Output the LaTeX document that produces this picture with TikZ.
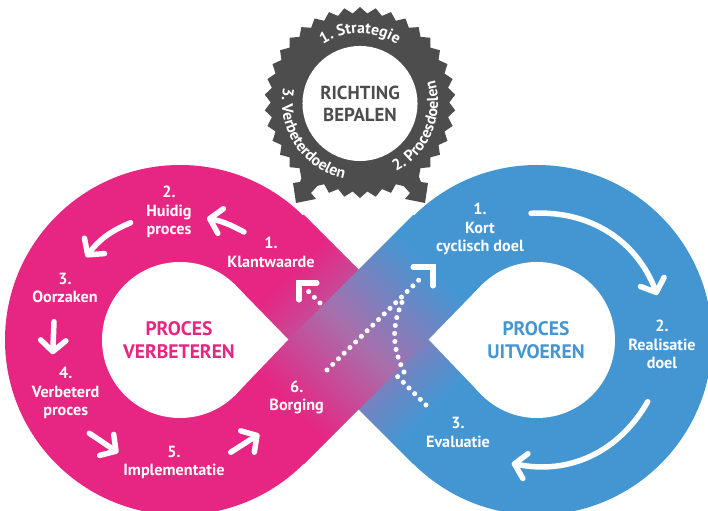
\documentclass[tikz,border=0pt]{standalone}
\usepackage{fontspec}
\setmainfont{PT Sans}
\usetikzlibrary{calc}
\usetikzlibrary{arrows.meta,shapes.geometric,decorations.text}

\definecolor{roze}{HTML}{E72582}
\definecolor{blauw}{HTML}{4496D3}
\definecolor{grijs}{HTML}{4D4D4D}
\definecolor{midden}{HTML}{A86FAC}
\pgfdeclarehorizontalshading{bandshade}{100bp}{color(0bp)=(roze); color(31bp)=(roze); color(50bp)=(midden); color(70bp)=(blauw); color(100bp)=(blauw)}
\newcommand{\ringfont}{\bfseries\fontsize{11.2}{13}\selectfont\color{white}}

\tikzset{
	label/.style={text=white,font=\bfseries\fontsize{11.5}{13}\selectfont,align=center,inner sep=0pt},
	kop/.style={font=\bfseries\fontsize{13.9}{16.4}\selectfont,align=center,inner sep=0pt},
	pijl/.style={white,line width=3.9pt,line cap=round,-{Straight Barb[length=8pt,width=18pt,round]}},
	stippel/.style={white,line width=3.6pt,line cap=round,dash pattern=on 0pt off 5.7pt},
	hoek/.style={white,line width=3.6pt,line cap=round,miter limit=4},
	ringtekst/.style={decorate,decoration={text along path,text align=center,text={#1}}}
}

\begin{document}
\begin{tikzpicture}[x=0.025cm,y=0.025cm]
	\path[use as bounding box,clip] (0,0) rectangle (708,511);

	\coordinate (kruis) at (358.5,171.5);
	\coordinate (links) at (180,171);
	\coordinate (rechts) at (537,171);
	\coordinate (ring) at (360,408.5);

	\fill[roze] (links) circle (175);
	\fill[blauw] (rechts) circle (175);

	%de twee banden door het midden
	\begin{scope}[transform canvas={rotate around={-45:(kruis)}}]
		\shade[shading=bandshade] ($(kruis)+(-127,-49.5)$) rectangle ($(kruis)+(127,49.5)$);
	\end{scope}
	\begin{scope}[transform canvas={rotate around={45:(kruis)}}]
		\shade[shading=bandshade] ($(kruis)+(-127,-49.5)$) rectangle ($(kruis)+(127,49.5)$);
	\end{scope}

	%gaten
	\fill[white] (links) circle (78);
	\fill[white] ($(links)+(46:78)$) -- (288.3,171.5) -- ($(links)+(-46:78)$) -- cycle;
	\fill[white] (rechts) circle (78);
	\fill[white] ($(rechts)+(134:78)$) -- (428.7,171.5) -- ($(rechts)+(-134:78)$) -- cycle;

	%tandwiel
	\fill[grijs] (293,328) -- (296,308) -- (316,312) -- (311,318) -- (322,330) -- (305,342) -- (300,329) -- cycle;
	\fill[grijs] (428,328) -- (425,308) -- (405,312) -- (410,318) -- (399,330) -- (416,342) -- (421,329) -- cycle;
	\node (tand) at (ring) [star,star points=38,star point ratio=1.07,minimum size=4.775cm,inner sep=0pt,fill=grijs] {};
	\node (richting) at ($(ring)+(0,-1)$) [circle,fill=white,minimum size=2.875cm,inner sep=0pt,text=grijs,kop,font=\bfseries\fontsize{13.4}{15.6}\selectfont] {RICHTING\\BEPALEN};

	\path[ringtekst={|\ringfont|1. Strategie}] ($(ring)+(150:69)$) arc (150:30:69);
	\path[ringtekst={|\ringfont|2. Procesdoelen}] ($(ring)+(-85:78)$) arc (-85:39:78);
	\path[ringtekst={|\ringfont|3. Verbeterdoelen}] ($(ring)+(140:78)$) arc (140:287:78);

	%teksten
	\node (K1) at (271,258.5) [label] {1.\\Klantwaarde};
	\node (K2) at (169,299) [label] {2.\\Huidig\\proces};
	\node (K3) at (65,223) [label] {3.\\Oorzaken};
	\node (K4) at (65.7,118) [label] {4.\\Verbeterd\\proces};
	\node (K5) at (174,48.7) [label] {5.\\Implementatie};
	\node (K6) at (296.7,113.5) [label] {6.\\Borging};
	\node (U1) at (480,282) [label] {1.\\Kort\\cyclisch doel};
	\node (U2) at (662,166.5) [label] {2.\\Realisatie\\doel};
	\node (U3) at (458,78.5) [label] {3.\\Evaluatie};
	\node (verbeteren) at (179,170.5) [kop,text=roze] {PROCES\\VERBETEREN};
	\node (uitvoeren) at (536,170.5) [kop,text=blauw] {PROCES\\UITVOEREN};

	%pijlen
	\coordinate (k12s) at (244,279);
	\coordinate (k12e) at (207,293);
	\coordinate (k23s) at (130.7,288.3);
	\coordinate (k23e) at (86,254);
	\coordinate (k34s) at (54,189.3);
	\coordinate (k34e) at (52.7,156.7);
	\coordinate (k45s) at (89.3,77.7);
	\coordinate (k45e) at (118.3,58.3);
	\coordinate (k56s) at (230.7,58.7);
	\coordinate (k56e) at (259.3,77);
	\coordinate (u12s) at (531,297.7);
	\coordinate (u12e) at (657.3,216);
	\coordinate (u23s) at (647.7,109.3);
	\coordinate (u23e) at (511.7,47.7);

	\draw[pijl] (k12s) to[bend right=8] (k12e);
	\draw[pijl] (k23s) to[bend right=15] (k23e);
	\draw[pijl] (k34s) -- (k34e);
	\draw[pijl] (k45s) -- (k45e);
	\draw[pijl] (k56s) -- (k56e);
	\draw[pijl] (u12s) to[bend left=36] (u12e);
	\draw[pijl] (u23s) to[bend left=36] (u23e);

	%stippellijnen
	\coordinate (d6s) at (327,141);
	\coordinate (d6e) at (423,235);
	\coordinate (d3s) at (426,106);
	\coordinate (d3e) at (397,135);
	\coordinate (d3a) at (404,139);
	\coordinate (d3b) at (403,211);
	\coordinate (d1s) at (320,208);
	\coordinate (d1e) at (308,220);

	\draw[stippel] (d6s) -- (d6e);
	\draw[stippel] (d3s) -- (d3e);
	\draw[stippel] (d3a) to[bend left=25] (d3b);
	\draw[stippel] (d1s) -- (d1e);

	\draw[hoek] (413,244) -- (433,244) -- (433,225);
	\draw[hoek] (317,228) -- (299,228) -- (299,211);
\end{tikzpicture}
\end{document}
